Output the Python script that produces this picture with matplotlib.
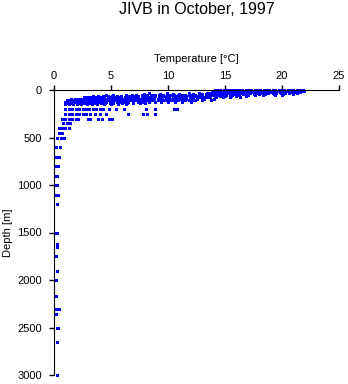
import matplotlib.pyplot as plt

# profundidades (m) e temperaturas (°C), por nível
depths = [0, 10, 20, 30, 40, 50, 60, 75, 90, 100, 110, 125, 140, 150, 200,
          250, 300, 350, 400, 450, 500, 600, 700, 800, 900, 1000, 1100, 1200,
          1500, 1620, 1650, 1750, 1900, 2000, 2170, 2300, 2360, 2500, 2650,
          3000]

temps = [
    # 0 m
    [14.1, 14.4, 14.6, 14.9, 15.2, 15.4, 15.7, 16.0, 16.2, 16.5, 16.8, 17.0,
     17.3, 17.6, 17.8, 18.1, 18.4, 18.6, 18.9, 19.2, 19.4, 19.7, 20.0, 20.2,
     20.5, 20.8, 21.0, 21.3, 21.6, 21.8],
    # 10 m
    [14.3, 14.7, 15.0, 15.2, 15.5, 15.9, 16.1, 16.4, 16.7, 16.9, 17.2, 17.5,
     17.7, 18.0, 18.3, 18.5, 18.8, 19.1, 19.3, 19.6, 19.9, 20.1, 20.4, 20.7,
     20.9, 21.2, 21.5, 21.7, 21.9],
    # 20 m
    [13.9, 14.2, 14.5, 14.8, 15.1, 15.3, 15.6, 15.8, 16.3, 16.6, 16.9, 17.1,
     17.4, 17.9, 18.2, 18.4, 18.7, 19.0, 19.5, 19.8, 20.1, 20.3, 20.6, 20.9,
     21.1, 21.4, 21.6],
    # 30 m
    [8.3, 9.9, 11.8, 12.7, 13.4, 13.7, 14.0, 14.3, 14.7, 15.0, 15.2, 15.5,
     15.9, 16.2, 16.5, 16.8, 17.2, 17.5, 17.8, 18.1, 18.4, 18.8, 19.2, 19.5,
     19.9, 20.3, 20.6, 21.0, 21.3],
    # 40 m
    [7.9, 9.3, 10.4, 11.0, 12.2, 13.0, 13.3, 13.6, 13.9, 14.2, 14.5, 14.8,
     15.1, 15.4, 15.7, 16.1, 16.6, 17.0, 17.5, 18.0, 18.5, 19.3, 20.1, 21.0],
    # 50 m
    [4.6, 5.2, 6.3, 6.8, 7.2, 7.7, 8.1, 8.6, 8.9, 9.2, 9.6, 9.9, 10.2, 10.5,
     10.9, 11.2, 11.5, 11.8, 12.1, 12.4, 12.7, 13.0, 13.3, 13.6, 13.9, 14.2,
     14.5, 14.8, 15.1, 15.6, 16.2, 17.0, 17.6, 18.3, 19.4, 20.0],
    # 60 m
    [3.4, 3.9, 4.3, 4.7, 5.1, 5.5, 5.9, 6.3, 6.6, 7.0, 7.4, 7.8, 8.2, 8.5,
     8.9, 9.3, 9.7, 10.1, 10.4, 10.8, 11.2, 11.6, 12.0, 12.3, 12.6, 13.0,
     13.3, 13.7, 14.1, 14.6, 15.0, 15.5, 16.0, 16.8],
    # 75 m
    [2.6, 2.9, 3.2, 3.5, 3.8, 4.1, 4.4, 4.7, 5.0, 5.3, 5.6, 6.2, 6.5, 6.8,
     7.1, 7.4, 7.7, 8.0, 8.3, 8.6, 9.2, 9.5, 9.8, 10.1, 10.4, 10.7, 11.0,
     11.3, 11.9, 12.2, 12.5, 12.8, 13.1, 13.4, 13.7, 14.2, 14.8, 15.4, 16.3],
    # 90 m
    [1.5, 1.8, 2.1, 2.4, 2.7, 3.0, 3.3, 3.6, 3.9, 4.2, 4.5, 4.8, 5.1, 5.4,
     5.7, 6.0, 6.3, 6.6, 6.9, 7.2, 7.5, 7.8, 8.1, 8.4, 8.8, 9.1, 9.5, 9.9,
     10.3, 10.7, 11.1, 11.6, 12.0, 12.5, 13.2, 14.0],
    # 100 m
    [1.1, 1.4, 1.7, 2.0, 2.3, 2.6, 2.9, 3.2, 3.5, 3.8, 4.1, 4.4, 4.7, 5.0,
     5.3, 5.6, 5.9, 6.2, 6.6, 7.0, 7.3, 7.7, 8.1, 8.5, 8.8, 9.2, 9.6, 10.0,
     10.4, 10.9, 11.3, 11.8, 12.3, 13.0, 13.8],
    # 110 m
    [1.2, 1.5, 1.8, 2.1, 2.4, 2.7, 3.0, 3.3, 3.6, 3.9, 4.2, 4.5, 4.8, 5.1,
     5.4, 5.7, 6.0, 6.4, 6.8, 7.1, 7.5, 7.9, 8.2, 8.7, 9.1, 9.7, 10.3, 10.8,
     11.5, 12.4],
    # 125 m
    [1.0, 1.3, 1.6, 1.9, 2.2, 2.5, 2.8, 3.1, 3.4, 3.7, 4.0, 4.3, 4.6, 4.9,
     5.2, 5.5, 5.8, 6.1, 6.5, 6.9, 7.4, 7.8, 8.3, 8.9, 9.4, 10.0, 10.6,
     11.2, 12.0],
    # 140 m
    [1.1, 1.4, 1.7, 2.0, 2.3, 2.6, 2.9, 3.2, 3.5, 3.8, 4.1, 4.5, 4.9, 5.2,
     5.6, 6.0, 6.4, 6.9, 7.5, 8.0],
    # 150 m
    [1.0, 1.3, 1.7, 2.0, 2.4, 2.9, 3.3, 3.8, 4.4, 5.0, 5.6, 6.3],
    # 200 m
    [1.0, 1.3, 1.6, 1.9, 2.2, 2.5, 2.8, 3.1, 3.4, 3.7, 4.0, 4.3, 4.8, 5.4,
     6.1, 8.1, 8.9, 10.5, 10.8],
    # 250 m
    [1.0, 1.3, 1.6, 1.9, 2.2, 2.5, 2.8, 3.2, 3.6, 4.0, 4.6, 6.5, 7.8, 8.2, 8.9],
    # 300 m
    [0.7, 1.0, 1.3, 1.6, 1.9, 2.1, 3.0, 3.2, 3.9, 4.2, 4.8, 5.1],
    [0.8, 1.1, 1.4],
    [0.4, 0.7, 1.0, 1.3],
    [0.4, 0.7],
    [0.3, 0.6, 0.9],
    [0.2, 0.5],
    [0.2, 0.4],
    [0.2, 0.35],
    [0.2, 0.3],
    [0.2, 0.3],
    [0.2, 0.35],
    [0.25],
    [0.2, 0.3],
    [0.25],
    [0.25],
    [0.2],
    [0.25],
    [0.2],
    [0.2],
    [0.2, 0.4],
    [0.2],
    [0.25, 0.35],
    [0.3],
    [0.3],
]

x = []
y = []
for d, ts in zip(depths, temps):
    for t in ts:
        x.append(t)
        y.append(d)

plt.rcParams['font.family'] = ['Liberation Sans', 'DejaVu Sans']

fig = plt.figure(figsize=(3.48, 3.84), dpi=100)
ax = fig.add_axes([54 / 348, 9 / 384, 285 / 348, 285 / 384])

ax.plot(x, y, 's', color='#0000ff', ms=2.16, mew=0, clip_on=False,
        antialiased=False)

ax.set_xlim(0, 25)
ax.set_ylim(3000, 0)
ax.set_xticks([0, 5, 10, 15, 20, 25])
ax.set_yticks([0, 500, 1000, 1500, 2000, 2500, 3000])

ax.xaxis.tick_top()
ax.xaxis.set_label_position('top')
ax.spines['bottom'].set_visible(False)
ax.spines['right'].set_visible(False)
ax.tick_params(axis='both', length=3.6, width=1, labelsize=8, color='black')
ax.tick_params(axis='x', pad=3)
ax.tick_params(axis='y', pad=5)

ax.set_xlabel("Temperature [°C]", fontsize=8, labelpad=6)
ax.set_ylabel("Depth [m]", fontsize=8, labelpad=3)

fig.text(196.5 / 348, 1 - 9 / 384, "JIVB in October, 1997", fontsize=11.5,
         ha='center', va='center')

fig.savefig("out.png", dpi=100)
